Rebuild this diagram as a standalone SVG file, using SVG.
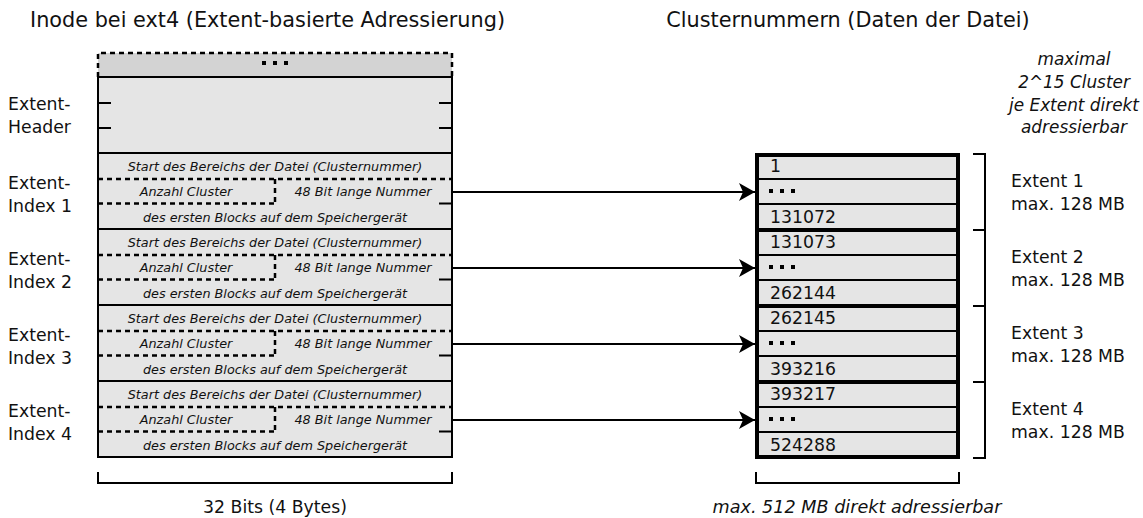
<svg xmlns="http://www.w3.org/2000/svg" width="1143" height="518" viewBox="0 0 1143 518">
<style>
text{font-family:"DejaVu Sans","Liberation Sans",sans-serif;fill:#111}
.t{font-size:20.8px}
.l{font-size:17.3px}
.s{font-size:12.8px;font-style:italic;text-anchor:middle}
.i{font-size:16.9px;font-style:italic;text-anchor:middle}
.ib{font-size:17.6px;font-style:italic;text-anchor:middle}
.box{fill:#e5e5e5;stroke:#000;stroke-width:2}
.thin{stroke:#000;stroke-width:2;fill:none}
.dash{stroke:#000;stroke-width:2.5;fill:none;stroke-dasharray:5,4}
.thick{stroke:#000;stroke-width:4;fill:none}
.conn{stroke:#000;stroke-width:2;fill:none;marker-end:url(#ah)}
</style>
<defs>
<marker id="ah" markerWidth="17" markerHeight="18" refX="16" refY="9" orient="auto" markerUnits="userSpaceOnUse">
<path d="M0,0 L16,9 L0,18 L4,9 z" fill="#000"/>
</marker>
</defs>

<text class="t" x="30" y="27">Inode bei ext4 (Extent-basierte Adressierung)</text>
<text class="t" x="848" y="27" text-anchor="middle">Clusternummern (Daten der Datei)</text>

<g id="note">
<text class="i" x="1074" y="65">maximal</text>
<text class="i" x="1074" y="88">2^15 Cluster</text>
<text class="i" x="1074" y="111">je Extent direkt</text>
<text class="i" x="1074" y="133">adressierbar</text>
</g>

<g id="inode-top">
<rect x="98" y="53" width="354" height="24" fill="#d3d3d3"/>
<path class="dash" d="M98,77 V53 H452 V77"/>
<rect x="262" y="61" width="4" height="4" fill="#000"/>
<rect x="273" y="61" width="4" height="4" fill="#000"/>
<rect x="284" y="61" width="4" height="4" fill="#000"/>
</g>

<g id="extent-header">
<rect class="box" x="98" y="77" width="354" height="76"/>
<path class="thin" d="M98,103 H111 M98,128 H111 M439,103 H452 M439,128 H452"/>
<text class="l" x="8" y="110">Extent-</text>
<text class="l" x="8" y="133">Header</text>
</g>

<g id="extent-index-1">
<rect class="box" x="98" y="153" width="354" height="76"/>
<path class="dash" d="M98,179 H452 M98,203.5 H275 M275,179 V203.5"/>
<path class="thin" d="M439,203.5 H452"/>
<text class="s" x="275" y="170.5">Start des Bereichs der Datei (Clusternummer)</text>
<text class="s" x="186" y="196">Anzahl Cluster</text>
<text class="s" x="363" y="196">48 Bit lange Nummer</text>
<text class="s" x="275" y="221.5">des ersten Blocks auf dem Speichergerät</text>
<text class="l" x="8" y="189">Extent-</text>
<text class="l" x="8" y="212">Index 1</text>
</g>

<g id="extent-index-2">
<rect class="box" x="98" y="229" width="354" height="76"/>
<path class="dash" d="M98,255 H452 M98,279.5 H275 M275,255 V279.5"/>
<path class="thin" d="M439,279.5 H452"/>
<text class="s" x="275" y="246.5">Start des Bereichs der Datei (Clusternummer)</text>
<text class="s" x="186" y="272">Anzahl Cluster</text>
<text class="s" x="363" y="272">48 Bit lange Nummer</text>
<text class="s" x="275" y="297.5">des ersten Blocks auf dem Speichergerät</text>
<text class="l" x="8" y="265">Extent-</text>
<text class="l" x="8" y="288">Index 2</text>
</g>

<g id="extent-index-3">
<rect class="box" x="98" y="305" width="354" height="76"/>
<path class="dash" d="M98,331 H452 M98,355.5 H275 M275,331 V355.5"/>
<path class="thin" d="M439,355.5 H452"/>
<text class="s" x="275" y="322.5">Start des Bereichs der Datei (Clusternummer)</text>
<text class="s" x="186" y="348">Anzahl Cluster</text>
<text class="s" x="363" y="348">48 Bit lange Nummer</text>
<text class="s" x="275" y="373.5">des ersten Blocks auf dem Speichergerät</text>
<text class="l" x="8" y="341">Extent-</text>
<text class="l" x="8" y="364">Index 3</text>
</g>

<g id="extent-index-4">
<rect class="box" x="98" y="381" width="354" height="76"/>
<path class="dash" d="M98,407 H452 M98,431.5 H275 M275,407 V431.5"/>
<path class="thin" d="M439,431.5 H452"/>
<text class="s" x="275" y="398.5">Start des Bereichs der Datei (Clusternummer)</text>
<text class="s" x="186" y="424">Anzahl Cluster</text>
<text class="s" x="363" y="424">48 Bit lange Nummer</text>
<text class="s" x="275" y="449.5">des ersten Blocks auf dem Speichergerät</text>
<text class="l" x="8" y="417">Extent-</text>
<text class="l" x="8" y="440">Index 4</text>
</g>

<g id="inode-brace">
<path class="thin" d="M98,472 V483 H452 V472"/>
<text class="l" x="275" y="513" text-anchor="middle">32 Bits (4 Bytes)</text>
</g>

<g id="extent-1">
<rect x="757" y="155" width="201" height="74" fill="#e5e5e5"/>
<path class="thin" d="M757,179 H958 M757,204 H958"/>
<text class="l" x="770" y="172">1</text>
<rect x="769" y="189" width="4" height="4" fill="#000"/>
<rect x="780" y="189" width="4" height="4" fill="#000"/>
<rect x="791" y="189" width="4" height="4" fill="#000"/>
<text class="l" x="770" y="223">131072</text>
<text class="l" x="1011" y="187">Extent 1</text>
<text class="l" x="1011" y="210">max. 128 MB</text>
</g>

<g id="extent-2">
<rect x="757" y="231" width="201" height="74" fill="#e5e5e5"/>
<path class="thin" d="M757,255 H958 M757,280 H958"/>
<text class="l" x="770" y="248">131073</text>
<rect x="769" y="265" width="4" height="4" fill="#000"/>
<rect x="780" y="265" width="4" height="4" fill="#000"/>
<rect x="791" y="265" width="4" height="4" fill="#000"/>
<text class="l" x="770" y="299">262144</text>
<text class="l" x="1011" y="263">Extent 2</text>
<text class="l" x="1011" y="286">max. 128 MB</text>
</g>

<g id="extent-3">
<rect x="757" y="307" width="201" height="74" fill="#e5e5e5"/>
<path class="thin" d="M757,331 H958 M757,356 H958"/>
<text class="l" x="770" y="324">262145</text>
<rect x="769" y="341" width="4" height="4" fill="#000"/>
<rect x="780" y="341" width="4" height="4" fill="#000"/>
<rect x="791" y="341" width="4" height="4" fill="#000"/>
<text class="l" x="770" y="375">393216</text>
<text class="l" x="1011" y="339">Extent 3</text>
<text class="l" x="1011" y="362">max. 128 MB</text>
</g>

<g id="extent-4">
<rect x="757" y="383" width="201" height="74" fill="#e5e5e5"/>
<path class="thin" d="M757,407 H958 M757,432 H958"/>
<text class="l" x="770" y="400">393217</text>
<rect x="769" y="417" width="4" height="4" fill="#000"/>
<rect x="780" y="417" width="4" height="4" fill="#000"/>
<rect x="791" y="417" width="4" height="4" fill="#000"/>
<text class="l" x="770" y="451">524288</text>
<text class="l" x="1011" y="415">Extent 4</text>
<text class="l" x="1011" y="438">max. 128 MB</text>
</g>

<g id="cluster-frame">
<rect class="thick" x="757" y="155" width="201" height="302"/>
<path class="thick" d="M757,230 H958 M757,306 H958 M757,382 H958"/>
<path class="thin" d="M973,154 H985 V458 H973 M973,230 H985 M973,306 H985 M973,382 H985"/>
<path class="thin" d="M756,472 V483 H959 V472"/>
<text class="ib" x="857" y="513">max. 512 MB direkt adressierbar</text>
</g>

<g id="connectors">
<path class="conn" d="M452,192 H755"/>
<path class="conn" d="M452,268 H755"/>
<path class="conn" d="M452,344 H755"/>
<path class="conn" d="M452,420 H755"/>
</g>
</svg>
